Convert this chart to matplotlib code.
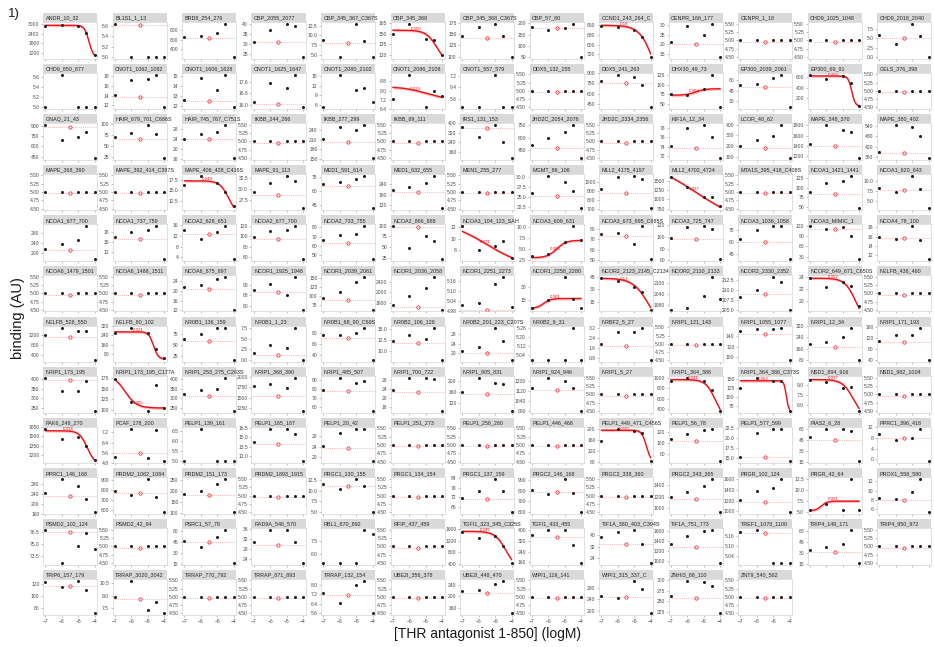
import matplotlib.pyplot as plt
import numpy as np
from matplotlib.ticker import MaxNLocator, FormatStrFormatter

plt.rcParams['font.family'] = ['Liberation Sans', 'DejaVu Sans']

# log concentrations of the antagonist
conc = [-7, -6, -5, -4.5, -4]
ref_x = -5.5

names = [
    # row 1
    'ANDR_10_32', 'BL1S1_1_13', 'BRD8_254_276', 'CBP_2055_2077', 'CBP_345_367_C367S',
    'CBP_345_368', 'CBP_345_368_C367S', 'CBP_57_80', 'CCND1_243_264_C', 'CENPR_166_177',
    'CENPR_1_18', 'CHD9_1025_1048', 'CHD9_2018_2040',
    # row 2
    'CHD9_850_877', 'CNOT1_1062_1082', 'CNOT1_1606_1628', 'CNOT1_1625_1647', 'CNOT1_2080_2102',
    'CNOT1_2086_2108', 'CNOT1_557_579', 'DDX5_132_155', 'DDX5_241_263', 'DHX30_49_73',
    'EP300_2039_2061', 'EP300_69_91', 'GELS_376_398',
    # row 3
    'GNAQ_21_43', 'HAIR_679_701_C686S', 'HAIR_745_767_C751S', 'IKBB_244_266', 'IKBB_277_299',
    'IKBB_89_111', 'IRS1_131_153', 'JHD2C_2054_2076', 'JHD2C_2334_2356', 'KIF1A_12_34',
    'LCOR_40_62', 'MAPE_348_370', 'MAPE_380_402',
    # row 4
    'MAPE_368_390', 'MAPE_392_414_C397S', 'MAPE_406_428_C416S', 'MAPE_91_113', 'MED1_591_614',
    'MED1_632_655', 'MEN1_255_277', 'MGMT_86_108', 'MLL2_4175_4197', 'MLL2_4702_4724',
    'MTA1S_395_418_C408S', 'NCOA1_1421_1441', 'NCOA1_620_643',
    # row 5
    'NCOA1_677_700', 'NCOA1_737_759', 'NCOA2_628_651', 'NCOA2_677_700', 'NCOA2_733_755',
    'NCOA2_866_888', 'NCOA3_104_123_SAH', 'NCOA3_609_631', 'NCOA3_673_695_C685S', 'NCOA3_725_747',
    'NCOA3_1036_1058', 'NCOA3_MIMIC_1', 'NCOA4_78_100',
    # row 6
    'NCOA6_1479_1501', 'NCOA6_1488_1511', 'NCOA6_875_897', 'NCOR1_1925_1948', 'NCOR1_2039_2061',
    'NCOR1_2036_2058', 'NCOR1_2251_2273', 'NCOR1_2258_2280', 'NCOR2_2123_2145_C2134S', 'NCOR2_2110_2133',
    'NCOR2_2330_2352', 'NCOR2_649_671_C650S', 'NELFB_438_460',
    # row 7
    'NELFB_528_550', 'NELFB_80_102', 'NR0B1_136_159', 'NR0B1_1_23', 'NR0B1_68_90_C69S',
    'NR0B2_106_128', 'NR0B2_201_223_C207S', 'NR0B2_9_31', 'NRBF2_5_27', 'NRIP1_121_143',
    'NRIP1_1055_1077', 'NRIP1_12_34', 'NRIP1_171_193',
    # row 8
    'NRIP1_173_195', 'NRIP1_173_195_C177A', 'NRIP1_253_275_C263S', 'NRIP1_368_390', 'NRIP1_485_507',
    'NRIP1_700_722', 'NRIP1_805_831', 'NRIP1_924_946', 'NRIP1_5_27', 'NRIP1_364_386',
    'NRIP1_364_386_C373S', 'NSD1_894_916', 'NSD1_982_1004',
    # row 9
    'PAK6_248_270', 'PCAF_178_200', 'PELP1_139_161', 'PELP1_165_187', 'PELP1_20_42',
    'PELP1_251_273', 'PELP1_258_280', 'PELP1_446_468', 'PELP1_449_471_C456S', 'PELP1_56_78',
    'PELP1_577_599', 'PIAS2_6_28', 'PPRC1_396_418',
    # row 10
    'PPRC1_146_168', 'PRDM2_1062_1084', 'PRDM2_151_173', 'PRDM2_1893_1915', 'PRGC1_130_155',
    'PRGC1_134_154', 'PRGC1_137_159', 'PRGC2_146_168', 'PRGC2_338_360', 'PRGC2_343_365',
    'PRGR_102_124', 'PRGR_42_64', 'PROX1_558_580',
    # row 11
    'PSMD2_102_124', 'PSMD2_42_64', 'PSRC1_57_78', 'RAD9A_546_570', 'RBL1_870_892',
    'RFIP_437_459', 'TGFI1_323_345_C325S', 'TGFI1_433_455', 'TIF1A_380_403_C394S', 'TIF1A_751_773',
    'TREF1_1078_1100', 'TRIP4_149_171', 'TRIP4_950_972',
    # row 12
    'TRIP6_157_179', 'TRRAP_3020_3042', 'TRRAP_770_792', 'TRRAP_871_893', 'TRRAP_132_154',
    'UBE2I_356_378', 'UBE2I_448_470', 'WIPI1_119_141', 'WIPI1_315_337_C', 'ZNHI3_88_110',
    'ZNT9_540_562',
]

FLAT = [5, 5, 5, 5, 5]

binding = [
    # row 1
    [2900, 2940, 2900, 2440, 1060], [5.65, 5, 5, 5, 5], [670, 684, 740, 936, 250],
    [31, 37, 40, 39, 23.5], [8.7, 4.5, 13, 8.5, 4.5], [149, 164, 142, 141.6, 120],
    [147, 167.5, 173.5, 147, 100], [185, 170, 177.5, 197, 53], [955, 947, 921, 861, 700],
    [21.1, 29.6, 24.9, 30.6, 13.4], FLAT, FLAT, [5.9, 3.4, 8.8, 5.6, 0.2],
    # row 2
    [5, 5.65, 5, 5, 5], [14.2, 17.3, 17.45, 18.4, 11.6], [12.65, 14.75, 13.6, 15.1, 11.9],
    [16.2, 17.5, 17.2, 18.1, 15.85], [5.2, 15.6, 10.6, 11.2, 7], [7.3, 9.4, 6.56, 8, 7.55],
    [5, 5, 7.3, 5, 5], FLAT, [790, 875, 840, 725, 410],
    [76, 74, 89.5, 127, 42], [53, 55, 63.5, 68.5, 21], [635, 557, 622, 492, 63], FLAT,
    # row 3
    [910, 690, 736, 803, 435], [69.6, 80, 96.8, 76.8, 22.4], [24, 25.9, 26.5, 29.4, 16.4],
    FLAT, [212.7, 249, 240, 255.6, 153.3], FLAT,
    [370, 286, 385, 244, 109], [509, 595, 672, 750, 363], FLAT,
    [74.1, 77.9, 78.5, 76, 71.7], [199, 260, 291, 396, 90], [1444, 1801, 1710, 1661, 1171],
    [392, 545, 535, 480, 356],
    # row 4
    FLAT, FLAT, [16.3, 18.4, 16.6, 14.5, 11.2],
    [29.3, 31.3, 32.9, 31.8, 25.7], [68, 70, 73.2, 76.8, 40.8], [204, 220, 244, 284, 104],
    FLAT, [26, 30.3, 28.75, 26.4, 22.2], [920, 1048, 1064, 1032, 708],
    [1607, 1327, 1072, 1055, 825], FLAT, [90, 111.6, 117, 131.4, 46.8],
    [8.2, 7.2, 11.3, 8, 3.2],
    # row 5
    [215, 234.5, 252.5, 308, 174.5], [16.7, 18.1, 18.7, 19.85, 9.85], [14.2, 11, 13.5, 15.6, 3.4],
    [98.4, 109.6, 113, 119.4, 57], [66.2, 71.4, 73, 81, 46.2], [99, 47, 76.7, 65, 21.8],
    [12.15, 7.95, 8.65, 9.56, 6.55], [3.5, 3.8, 6.7, 10.2, 7], [74.5, 75.5, 65.75, 82.2, 51],
    [99, 117.2, 118.5, 113.3, 62], [63.3, 74.8, 79.4, 79.4, 39.4], [119, 110, 116.8, 89.3, 23.3],
    [16, 15.4, 18.2, 15.2, 11.2],
    # row 6
    FLAT, FLAT, [21.5, 22.5, 24.75, 25.8, 12.3],
    [92.2, 96.2, 88.2, 101.8, 77], [95, 112, 138, 152, 63], [1510, 1860, 2182, 2588, 1342],
    [5.02, 5.03, 5.144, 5.184, 5.006], [5.8, 15, 41.8, 17, 5.8], [43, 40.2, 33, 27, 5.8],
    [1954, 1960, 2030, 2134, 2010], [208.4, 210, 213.3, 212, 205.2], [23.8, 22.3, 23.2, 22.5, 19.1],
    FLAT,
    # row 7
    [1180, 1488, 1362, 1362, 200], [264, 306, 264, 124, 45.6], [63, 75, 88.6, 88.6, 15],
    [1.76, 3.6, 2.9, 7.6, 0], [75.5, 75.5, 80.7, 89.8, 30], [12.4, 13.6, 12.8, 15.4, 8],
    [20.9, 22.7, 30.8, 25.25, 17], [5, 5, 5, 5.28, 5], [1.94, 2.84, 2.84, 3.23, 0.62],
    FLAT, [148.3, 151.5, 151.5, 154.8, 95], [192.5, 210, 245, 310, 80],
    [111.5, 131, 131, 159.6, 40],
    # row 8
    [405, 340, 340, 391.5, 235.7], [174.5, 119.5, 97.5, 160, 103], [321, 344, 350, 405, 235.7],
    [1780, 1843, 1744, 1978, 1177], [79, 91.8, 87, 89, 56.2], [23.6, 28.7, 28.7, 28.4, 14.5],
    [161.5, 209.6, 194, 188.8, 93.9], [1148, 1226, 1199, 1148, 959], FLAT,
    [945, 994, 952, 770, 371], [125, 152, 145, 143, 63], [9.8, 9.5, 8.6, 8.72, 5.18],
    FLAT,
    # row 9
    [1622, 1457, 1485, 1347, 1127], [5.3, 7.47, 5.17, 7.38, 4.95], [5, 6.6, 5, 5, 5],
    [14.3, 16.3, 16.4, 15.5, 11.1], [24.3, 29.5, 31, 31, 18.3], FLAT,
    FLAT, FLAT, [157, 199, 194.8, 185, 84],
    [107, 117.5, 124.5, 126.6, 66.4], [15.35, 21.4, 22.4, 22.4, 14.2], [50, 61, 61, 57.5, 16],
    [9.4, 7.06, 8.1, 11.35, -0.74],
    # row 10
    [244, 299.5, 274, 220, 167.5], [787, 747, 906, 733, 578], [187.4, 199, 232, 253.4, 103],
    FLAT, [11.7, 10.45, 12.7, 11.1, 4.9], FLAT,
    [71.9, 75.9, 83.1, 75.9, 63.1], [811, 772.5, 909, 776, 597.5], FLAT,
    [1192.5, 1290, 1387.5, 1504.5, 932.5], [1209, 1384, 1440, 1601, 985], [5.3, 6.7, 5.3, 12.4, 5.3],
    [8.36, 8.2, 9.8, 12.44, 5.4],
    # row 11
    [76.8, 72.6, 74.75, 76.4, 74.3], FLAT, [46, 37.5, 51.5, 61.5, 16.5],
    [30.7, 35.8, 35.8, 30.7, 22.45], [5.04, 5.04, 5.04, 8.7, 8.2], FLAT,
    [1516, 1300, 1360, 1000, 436], [366, 401, 401, 290, 158], [38.75, 42.5, 43.75, 33.75, 20.75],
    [1335, 1496, 1601, 1615, 971], [5.19, 5.2, 5, 5, 5], [34, 37.5, 42.5, 61.5, 16.5],
    FLAT,
    # row 12
    [124, 115, 126.4, 110.8, 71.8], [8.9, 10.8, 7.3, 8.3, 6.93], FLAT,
    FLAT, [7.3, 6.46, 7.96, 8.35, 5.6], FLAT,
    [218, 221.6, 242, 254, 143.6], FLAT, [250, 244, 304, 274, 193.6],
    [262.5, 299, 296.5, 285.5, 222.5], FLAT,
]

F0 = 4.96  # red marker level on flat panels
ref_level = [
    None, 5.62, 635, 31, 8, None, 142, 177.5, None, 20.2, F0, F0, 5.0,
    None, 13.8, 12.5, 16.05, None, None, None, F0, 750, None, 50, None, F0,
    880, 65.6, 24, F0, 203, F0, 361, 479, F0, 73.75, 182, 1395, 381,
    F0, F0, None, 28.7, 65.2, 194, F0, 25.2, 880, None, F0, 82.8, 7.7,
    210.5, 16.05, 12.8, 95, 63.4, 96.5, None, None, 73, 95.75, 60, 112, 15.6,
    F0, F0, 20.7, 90.2, 88, 1440, 4.99, None, None, None, 209, None, F0,
    1096, None, 59, 1.2, 71, 12, 20, None, 1.79, F0, 143.75, 170, 105,
    393.4, None, 310, 1537, 78.2, 22.8, 152.4, 1130, F0, None, None, None, F0,
    None, 5.6, None, 13.9, 23.6, F0, F0, F0, None, 103.5, 15.35, 45, 8.1,
    232, 769, 181, F0, 11.1, F0, 70.8, 790, F0, 1160, 1174, None, 7.9,
    76.55, F0, 45, 29.8, None, F0, None, 347, 33.75, 1286, 5.18, 31.5, F0,
    118, 8.6, F0, F0, 7.15, F0, 212, F0, 247.6, 257.4, F0,
]

# fitted dose-response: (left level, right level, logIC50, hill, label)
fits = {
    'ANDR_10_32': (2930, 900, -4.34, 3.1, ''),
    'CBP_345_368': (155, 105, -4.3, 1.3, '0.050'),
    'CCND1_243_264_C': (960, 300, -3.75, 1.0, '0.18'),
    'CNOT1_2086_2108': (8.35, 7.2, -5.0, 0.6, '0.019'),
    'DHX30_49_73': (73, 90, -5.5, 1.5, '0.003'),
    'EP300_69_91': (615, 55, -4.45, 4, '0.025'),
    'MAPE_406_428_C416S': (17.2, 9, -4.3, 1.6, '0.044'),
    'MLL2_4702_4724': (2200, 200, -5.5, 0.25, '0.027'),
    'NCOA3_104_123_SAH': (13.2, 4.7, -5.5, 0.35, '0.071'),
    'NCOA3_609_631': (3, 7, -5.5, 1.5, '0.006'),
    'NCOR1_2258_2280': (5.5, 17, -6.3, 2, '0.001'),
    'NCOR2_2123_2145_C2134S': (43, -20, -4.1, 0.9, '0.12'),
    'NCOR2_649_671_C650S': (23.8, 16, -4.2, 1.3, '0.052'),
    'NELFB_80_102': (270, 40, -4.65, 3, '0.021'),
    'NRIP1_173_195_C177A': (185, 104, -6.4, 1.2, '0.005'),
    'NRIP1_364_386': (970, 200, -4.3, 1.5, '0.041'),
    'NRIP1_364_386_C373S': (145, 62, -4.2, 6, '0.062'),
    'NSD1_894_916': (9.9, 4.0, -4.35, 1.3, '0.037'),
    'PAK6_248_270': (1590, 1050, -4.45, 1.8, '0.034'),
    'PELP1_449_471_C456S': (196, 80, -4.25, 3, '0.055'),
    'PRGR_42_64': (5.2, 7.4, -6.3, 2.5, '0.001'),
    'TGFI1_323_345_C325S': (1530, 200, -4.35, 1.3, '0.045'),
}

W, H = 934, 647
fig = plt.figure(figsize=(W / 100, H / 100), dpi=100)
ncol = 13
nrow = 12
xs = np.linspace(-7, -4, 200)

for i, name in enumerate(names):
    r, c = divmod(i, ncol)
    left = 43 + 69.5 * c
    top = 13 + 50.6 * r
    ax = fig.add_axes([left / W, 1 - (top + 9 + 36.5) / H, 54 / W, 36.5 / H])
    st = fig.add_axes([left / W, 1 - (top + 9) / H, 54 / W, 9 / H])
    st.set_facecolor('#d9d9d9')
    st.set_xticks([])
    st.set_yticks([])
    for s in st.spines.values():
        s.set_visible(False)
    st.text(0.05, 0.45, name, fontsize=3.9, va='center', ha='left', color='#262626')

    vals = binding[i]
    if name in fits:
        lft, rgt, ec, h, lab = fits[name]
        yy = rgt + (lft - rgt) / (1 + 10 ** ((xs - ec) * h))
        d = 0.045 * (max(vals) - min(vals))
        ax.fill_between(xs, yy - d, yy + d, color='#ff4d4d', alpha=0.35, lw=0)
        ax.plot(xs, yy, color='#e8141b', lw=1.0)
        if lab:
            yl = rgt + (lft - rgt) / (1 + 10 ** ((-5.6 - ec) * h))
            ax.text(-5.6, yl, lab, color='#e8141b', fontsize=3.2, ha='center', va='bottom')
    ref = ref_level[i]
    if ref is not None:
        ax.axhline(ref, color='#ff9e9e', lw=0.5, ls=(0, (1.5, 1.5)))
        ax.plot(ref_x, ref, 'o', mfc='none', mec='#e8141b', ms=2.4, mew=0.5)
    ax.plot(conc, vals, 'o', ms=2.2, color='#1f1f1f', mew=0)

    ax.set_xlim(-7.15, -3.85)
    ax.set_xticks([-7, -6, -5, -4])
    if vals == FLAT:
        ax.set_ylim(4.45, 5.55)
        ax.set_yticks([4.5, 4.75, 5.0, 5.25, 5.5])
        ax.yaxis.set_major_formatter(FormatStrFormatter('%.2f'))
    else:
        ax.margins(y=0.06)
        ax.yaxis.set_major_locator(MaxNLocator(nbins=4))
    for s in ax.spines.values():
        s.set_color('#c8c8c8')
        s.set_linewidth(0.4)
    ax.tick_params(length=1.5, width=0.4, color='#8c8c8c', labelsize=3.6,
                   labelcolor='#4d4d4d', pad=1)
    if r < nrow - 1:
        ax.tick_params(axis='x', labelbottom=False)

fig.text(18 / W, 1 - 318 / H, 'binding (AU)', rotation=90, fontsize=10.5,
         ha='center', va='center', color='#1a1a1a')
fig.text(487 / W, 1 - 634 / H, '[THR antagonist 1-850] (logM)', fontsize=10,
         ha='center', va='center', color='#1a1a1a')
fig.text(8 / W, 1 - 14 / H, '1)', fontsize=9.5, ha='left', va='center', color='#1a1a1a')

fig.savefig('out.png', dpi=100)
